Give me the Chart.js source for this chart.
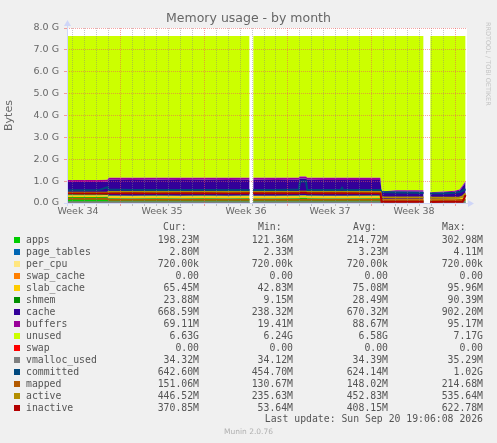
<!DOCTYPE html>
<html>
<head>
<meta charset="utf-8">
<script src="https://cdn.jsdelivr.net/npm/chart.js@4.4.1/dist/chart.umd.min.js"></script>
<style>
  html, body { margin: 0; padding: 0; background: #f0f0f0; }
  body { width: 497px; height: 443px; position: relative; overflow: hidden; }
  #chart { position: absolute; left: 0; top: 0; }
  .row { position: absolute; left: 0; width: 497px; height: 12px; line-height: 12px;
         font-family: "DejaVu Sans Mono", monospace; font-size: 9.8px; color: #555; white-space: pre; }
  .row span { position: absolute; top: 0; }
  .row .sw { left: 14px; top: 3px; width: 6px; height: 6px; }
  .row .nm { left: 26px; }
  .row .num { text-align: right; }
  #rrd { position: absolute; left: 484px; top: 22px; writing-mode: vertical-rl;
         font-family: "DejaVu Sans", sans-serif; font-size: 6.5px; color: #c4c4c4; }
  #munin { position: absolute; left: 0; width: 497px; top: 427px; text-align: center;
           font-family: "DejaVu Sans", sans-serif; font-size: 7.5px; color: #b0b0b0; }
</style>
</head>
<body>
<canvas id="chart" width="497" height="225"></canvas>
<div id="legend"></div>
<div id="rrd">RRDTOOL / TOBI OETIKER</div>
<div id="munin">Munin 2.0.76</div>
<script>
// time axis: days counted from monday of week 34
const days = [2.6, 4, 5.3, 5.95, 6.05, 8, 10, 12, 14, 16, 17.8, 17.9, 18.1, 20, 21.9, 22.0, 22.5, 22.6,
  24, 25.4, 25.5, 25.6, 28.7, 28.8, 30, 31.5, 32.3, 32.5, 32.85, 34, 34.9, 35.3, 35.55, 35.8];
const weekLabels = ["Week 34", "Week 35", "Week 36", "Week 37", "Week 38"];
const yTickLabels = ["0.0 G", "1.0 G", "2.0 G", "3.0 G", "4.0 G", "5.0 G", "6.0 G", "7.0 G", "8.0 G"];

// stacked areas (G)
const apps = [.27, .27, .27, .28, .22, .21, .22, .21, .22, .21, .22, null, .21, .21, .22, .24, .24, .22,
  .21, .21, .21, .21, .22, .13, .12, .125, .13, null, .12, .13, .14, .15, .17, .194];
const page_tables = [.003, .003, .003, .003, .003, .003, .003, .003, .003, .003, .003, null, .003, .003, .003, .003, .003, .003,
  .003, .003, .003, .003, .003, .0025, .0025, .0025, .0025, null, .0025, .0025, .0025, .0025, .0025, .0027];
const per_cpu = [.0007, .0007, .0007, .0007, .0007, .0007, .0007, .0007, .0007, .0007, .0007, null, .0007, .0007, .0007, .0007, .0007, .0007,
  .0007, .0007, .0007, .0007, .0007, .0007, .0007, .0007, .0007, null, .0007, .0007, .0007, .0007, .0007, .0007];
const swap_cache = [0, 0, 0, 0, 0, 0, 0, 0, 0, 0, 0, null, 0, 0, 0, 0, 0, 0,
  0, 0, 0, 0, 0, 0, 0, 0, 0, null, 0, 0, 0, 0, 0, 0];
const slab_cache = [.07, .07, .07, .07, .09, .09, .09, .09, .09, .09, .09, null, .09, .09, .09, .09, .09, .09,
  .09, .09, .09, .09, .09, .045, .045, .045, .045, null, .045, .05, .055, .058, .062, .064];
const shmem = [.06, .06, .06, .06, .025, .025, .025, .025, .025, .025, .025, null, .025, .025, .025, .025, .025, .025,
  .025, .025, .025, .025, .025, .009, .009, .009, .009, null, .01, .012, .015, .017, .02, .023];
const cache = [.556, .556, .556, .556, .728, .728, .728, .728, .728, .728, .728, null, .738, .728, .728, .758, .758, .728,
  .728, .728, .728, .728, .718, .313, .353, .348, .343, null, .277, .285, .297, .337, .483, .653];
const buffers = [.09, .09, .09, .09, .093, .093, .093, .093, .093, .093, .093, null, .093, .093, .093, .093, .093, .093,
  .093, .093, .093, .093, .093, .02, .05, .05, .05, null, .035, .04, .05, .055, .062, .067];
const unused = [6.585, 6.585, 6.585, 6.575, 6.475, 6.485, 6.475, 6.485, 6.475, 6.485, 6.475, null, 6.475, 6.485, 6.475, 6.425, 6.425, 6.475,
  6.485, 6.485, 6.485, 6.485, 6.485, 7.115, 7.055, 7.055, 7.055, null, 7.145, 7.115, 7.075, 7.015, 6.835, 6.63];
const swap = [0, 0, 0, 0, 0, 0, 0, 0, 0, 0, 0, null, 0, 0, 0, 0, 0, 0,
  0, 0, 0, 0, 0, 0, 0, 0, 0, null, 0, 0, 0, 0, 0, 0];

// lines (G)
const vmalloc_used = [.0335, .0335, .0335, .0335, .0335, .0335, .0335, .0335, .0335, .0335, .0335, null, .0335, .0335, .0335, .0335, .0335, .0335,
  .0335, .0335, .0335, .0335, .0335, .0335, .0335, .0335, .0335, null, .0335, .0335, .0335, .0335, .0335, .0335];
const committed = [.58, .58, .60, .72, .62, .60, .60, .59, .60, .60, .60, null, .60, .60, .62, .98, .99, .60,
  .60, .60, .69, .60, .60, .50, .48, .47, .46, null, .44, .45, .47, .50, .56, .628];
const mapped = [.20, .19, .19, .19, .145, .145, .145, .145, .145, .145, .145, null, .145, .145, .145, .145, .145, .145,
  .145, .145, .145, .145, .145, .13, .13, .13, .13, null, .13, .13, .13, .135, .14, .1475];
const active = [.47, .47, .47, .48, .50, .50, .50, .50, .50, .50, .50, null, .50, .50, .50, .52, .52, .50,
  .50, .50, .50, .50, .50, .26, .25, .25, .25, null, .24, .24, .245, .25, .30, .436];
const inactive = [.44, .43, .43, .43, .44, .45, .44, .45, .45, .44, .45, null, .45, .45, .45, .47, .47, .45,
  .45, .45, .45, .45, .44, .06, .055, .055, .055, null, .05, .052, .053, .055, .06, .362];

const names = ["apps", "page_tables", "per_cpu", "swap_cache", "slab_cache", "shmem", "cache", "buffers",
  "unused", "swap", "vmalloc_used", "committed", "mapped", "active", "inactive"];
const colors = ["#00cc00", "#0066b3", "#ffe680", "#ff8000", "#ffcc00", "#008f00", "#330099", "#990099",
  "#ccff00", "#ff0000", "#808080", "#00487d", "#b35a00", "#b38f00", "#b30000"];
const curVals = ["198.23M", "2.80M", "720.00k", "0.00", "65.45M", "23.88M", "668.59M", "69.11M",
  "6.63G", "0.00", "34.32M", "642.60M", "151.06M", "446.52M", "370.85M"];
const minVals = ["121.36M", "2.33M", "720.00k", "0.00", "42.83M", "9.15M", "238.32M", "19.41M",
  "6.24G", "0.00", "34.12M", "454.70M", "130.67M", "235.63M", "53.64M"];
const avgVals = ["214.72M", "3.23M", "720.00k", "0.00", "75.08M", "28.49M", "670.32M", "88.67M",
  "6.58G", "0.00", "34.39M", "624.14M", "148.02M", "452.83M", "408.15M"];
const maxVals = ["302.98M", "4.11M", "720.00k", "0.00", "95.96M", "90.39M", "902.20M", "95.17M",
  "7.17G", "0.00", "35.29M", "1.02G", "214.68M", "535.64M", "622.78M"];

const areaSeries = [apps, page_tables, per_cpu, swap_cache, slab_cache, shmem, cache, buffers, unused, swap];
const lineSeries = [vmalloc_used, committed, mapped, active, inactive];

const pts = arr => arr.map((v, i) => ({ x: days[i], y: v }));
const MAJOR = "rgba(235, 90, 90, 0.55)";
const MINOR = "rgba(130, 130, 130, 0.45)";
const FONT = "'DejaVu Sans', sans-serif";

const datasets = [];
areaSeries.forEach((s, i) => {
  datasets.push({
    label: names[i],
    data: pts(s),
    stack: "mem",
    fill: i === 0 ? "origin" : "-1",
    backgroundColor: colors[i],
    borderColor: "rgba(0,0,0,0)",
    borderWidth: 0,
    pointRadius: 0,
    order: 10,
  });
});
lineSeries.forEach((s, j) => {
  datasets.push({
    label: names[10 + j],
    data: pts(s),
    stack: "line" + j,
    fill: false,
    borderColor: colors[10 + j],
    borderWidth: 2,
    pointRadius: 0,
    order: 5 - j, // inactive ends up on top
  });
});

// white plot background, axis lines and arrows like rrdtool
const rrdFrame = {
  id: "rrdFrame",
  beforeDraw(chart) {
    const { ctx, chartArea: a } = chart;
    ctx.save();
    ctx.fillStyle = "#ffffff";
    ctx.fillRect(a.left, a.top, a.right - a.left, a.bottom - a.top);
    ctx.restore();
  },
  afterDraw(chart) {
    const { ctx, chartArea: a } = chart;
    ctx.save();
    ctx.fillStyle = "#cfd6f8";
    ctx.fillRect(a.left - 3, a.bottom, a.right - a.left + 5, 1);
    ctx.fillRect(a.left, a.top - 4, 1, a.bottom - a.top + 7);
    ctx.beginPath();
    ctx.moveTo(a.right + 1, a.bottom - 3);
    ctx.lineTo(a.right + 7, a.bottom + 0.5);
    ctx.lineTo(a.right + 1, a.bottom + 4);
    ctx.closePath();
    ctx.fill();
    ctx.beginPath();
    ctx.moveTo(a.left - 3, a.top - 2);
    ctx.lineTo(a.left + 0.5, a.top - 8);
    ctx.lineTo(a.left + 4, a.top - 2);
    ctx.closePath();
    ctx.fill();
    ctx.restore();
  },
};

new Chart(document.getElementById("chart"), {
  type: "line",
  data: { datasets },
  plugins: [rrdFrame],
  options: {
    responsive: false,
    animation: false,
    devicePixelRatio: 1,
    layout: { padding: 0 },
    plugins: {
      legend: { display: false },
      tooltip: { enabled: false },
      title: {
        display: true,
        text: "Memory usage - by month",
        color: "#666",
        font: { family: FONT, size: 12.5, weight: "normal" },
        padding: { top: 11.5, bottom: 1.5 },
      },
    },
    scales: {
      x: {
        type: "linear",
        min: 2.583,
        max: 35.917,
        afterBuildTicks: (s) => {
          const t = [];
          for (let v = 3; v <= 35.5; v += 0.5) t.push({ value: v });
          s.ticks = t;
        },
        afterFit: (s) => { s.height = 22; },
        grid: {
          z: 1,
          color: (c) => {
            const v = c.tick.value;
            if (!Number.isInteger(v)) return "rgba(0,0,0,0)";
            return v % 7 === 0 ? MAJOR : MINOR;
          },
          tickLength: 3,
        },
        border: { display: false, dash: [1, 1] },
        ticks: {
          autoSkip: false,
          maxRotation: 0,
          padding: 0,
          color: "#666",
          font: { family: FONT, size: 9.5 },
          callback: (v) => ((v - 3.5) % 7 === 0 ? weekLabels[(v - 3.5) / 7] : ""),
        },
      },
      y: {
        stacked: true,
        min: 0,
        max: 8,
        afterBuildTicks: (s) => {
          const t = [];
          for (let v = 0; v <= 8; v += 0.5) t.push({ value: v });
          s.ticks = t;
        },
        afterFit: (s) => { s.width = 67; },
        grid: {
          z: 1,
          color: (c) => (Number.isInteger(c.tick.value) ? MAJOR : MINOR),
          tickLength: 3,
        },
        border: { display: false, dash: [1, 1] },
        ticks: {
          padding: 5,
          color: "#666",
          font: { family: FONT, size: 9.5 },
          callback: (v) => (Number.isInteger(v) ? yTickLabels[v] : ""),
        },
        title: {
          display: true,
          text: "Bytes",
          color: "#666",
          font: { family: FONT, size: 11 },
          padding: { top: 3, bottom: 0 },
        },
      },
      // empty right gutter so the title centres on the whole image
      gutter: {
        position: "right",
        display: true,
        afterFit: (s) => { s.width = 30; },
        grid: { display: false },
        ticks: { display: false },
        border: { display: false },
      },
    },
  },
});

// munin style legend table
const legend = document.getElementById("legend");
function addRow(top, html) {
  const d = document.createElement("div");
  d.className = "row";
  d.style.top = top + "px";
  d.innerHTML = html;
  legend.appendChild(d);
}
const numCols = [298, 204, 109, 14];
addRow(221,
  '<span style="left:163px">Cur:</span><span style="left:258px">Min:</span>' +
  '<span style="left:353px">Avg:</span><span style="left:442px">Max:</span>');
names.forEach((n, i) => {
  const vals = [curVals[i], minVals[i], avgVals[i], maxVals[i]];
  let h = '<span class="sw" style="background:' + colors[i] + '"></span><span class="nm">' + n + "</span>";
  vals.forEach((v, k) => { h += '<span class="num" style="right:' + numCols[k] + 'px">' + v + "</span>"; });
  addRow(234 + 12 * i, h);
});
addRow(413, '<span class="num" style="right:14px">Last update: Sun Sep 20 19:06:08 2026</span>');
</script>
</body>
</html>
